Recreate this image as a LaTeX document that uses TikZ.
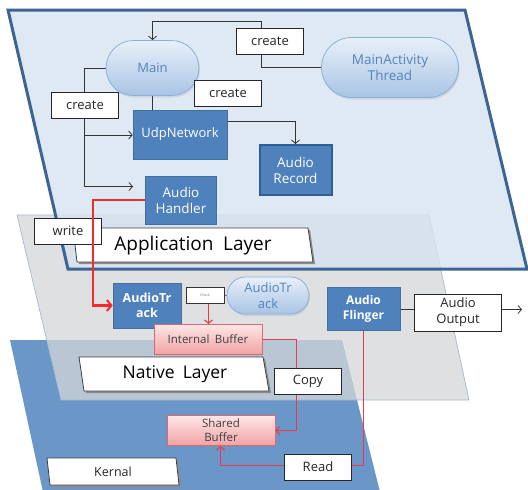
\documentclass[tikz,border=0pt]{standalone}
\usepackage{fontspec}
\setmainfont{Open Sans}
\usetikzlibrary{arrows.meta,shapes.misc,shadows}
\pgfdeclarelayer{bg}
\pgfdeclarelayer{lines}
\pgfsetlayers{bg,lines,main}
\definecolor{appfill}{HTML}{D7E3F1}
\definecolor{appborder}{HTML}{3D6594}
\definecolor{natfill}{HTML}{D4D6D8}
\definecolor{natborder}{HTML}{A5B8CC}
\definecolor{kerfill}{HTML}{6A97C8}
\definecolor{boxblue}{HTML}{4F81BD}
\definecolor{boxedge}{HTML}{41709F}
\definecolor{recedge}{HTML}{2F5E93}
\definecolor{pilltop}{HTML}{E8F0F9}
\definecolor{pillbot}{HTML}{A8C4E5}
\definecolor{pilledge}{HTML}{8CAFD8}
\definecolor{pilltext}{HTML}{5583B8}
\definecolor{pinktop}{HTML}{FDE6E6}
\definecolor{pinkbot}{HTML}{F2A2A5}
\definecolor{pinkedge}{HTML}{DB6A70}
\definecolor{redthick}{HTML}{F42B2B}
\definecolor{redthin}{HTML}{EE3A46}
\definecolor{linegray}{HTML}{333333}
\begin{document}
\begin{tikzpicture}[x=1pt,y=-1pt,
  every node/.style={font=\fontsize{13}{16}\selectfont, align=center, inner sep=0pt},
  pill/.style={rounded rectangle, draw=pilledge, line width=0.8pt, top color=pilltop, bottom color=pillbot, text=pilltext,
    drop shadow={opacity=0.18, shadow xshift=1pt, shadow yshift=-2pt}},
  dbox/.style={rectangle, draw=boxedge, line width=0.6pt, fill=boxblue, text=white},
  lbl/.style={rectangle, draw=black!85, line width=0.8pt, fill=white, text=black!85, minimum width=67pt, minimum height=26pt},
  pinkbox/.style={rectangle, draw=pinkedge, line width=0.8pt, top color=pinktop, bottom color=pinkbot, text=black!75,
    font=\fontsize{11.5}{14}\selectfont, drop shadow={opacity=0.15, shadow xshift=1pt, shadow yshift=-1.5pt}},
  layerlbl/.style={fill=white, draw=black!75, line width=0.8pt},
  lblshadow/.style={fill=black!45},
  conn/.style={draw=linegray, line width=0.8pt, -{Straight Barb[length=3.5pt,width=8pt]}},
  rconn/.style={draw=redthin, line width=1.2pt, -{Straight Barb[length=3.5pt,width=8pt,line width=1.1pt]}},
  rthick/.style={draw=redthick, line width=2.2pt, -{Straight Barb[length=4.5pt,width=11pt,line width=2pt]}}
]
\useasboundingbox (0,0) rectangle (528,490);

% ---------- layers ----------
\begin{pgfonlayer}{bg}
  \fill[kerfill] (10,340) -- (342,340) -- (380,492) -- (43,492) -- cycle;
  \filldraw[fill=natfill, fill opacity=0.75, draw=natborder, line width=0.7pt]
    (17,215) -- (429,215) -- (469,400) -- (61,400) -- cycle;
  \filldraw[fill=appfill, fill opacity=0.8, draw=appborder, line width=3pt, line join=miter]
    (8,10) -- (465,10) -- (527,269) -- (68,269) -- cycle;
  % layer labels
  \fill[lblshadow] (75,230) -- (310,230) -- (315,264) -- (79,264) -- cycle;
  \filldraw[layerlbl] (73,228) -- (308,228) -- (313,262) -- (77,262) -- cycle;
  \fill[lblshadow] (81,359) -- (265,359) -- (271,393) -- (86,393) -- cycle;
  \filldraw[layerlbl] (79,357) -- (263,357) -- (269,391) -- (84,391) -- cycle;
  \fill[lblshadow] (49,460) -- (178,460) -- (181,487) -- (52,487) -- cycle;
  \filldraw[layerlbl] (47,458) -- (176,458) -- (179,485) -- (50,485) -- cycle;
\end{pgfonlayer}

\node[font=\fontsize{19}{22}\selectfont] (applbl) at (193,246) {Application\hspace{0.25em} Layer};
\node[font=\fontsize{17.5}{20}\selectfont] (natlbl) at (175,374) {Native\hspace{0.2em} Layer};
\node[font=\fontsize{12.5}{15}\selectfont, text=black!85] (kerlbl) at (113,472) {Kernal};

% ---------- application layer nodes ----------
\node[pill, minimum width=93pt, minimum height=55pt] (main) at (152.5,68) {Main};
\node[pill, minimum width=137pt, minimum height=60pt, font=\fontsize{13.5}{16}\selectfont] (mat) at (390,67.5) {MainActivity\\Thread};
\node[lbl] (cr1) at (270,41) {create};
\node[lbl] (cr2) at (85,105) {create};
\node[lbl] (cr3) at (228,93) {create};
\node[dbox, minimum width=94pt, minimum height=49pt] (udp) at (180,134.5) {UdpNetwork};
\node[dbox, draw=recedge, line width=2pt, minimum width=72pt, minimum height=50pt, font=\fontsize{13.5}{16}\selectfont] (rec) at (295.5,170) {Audio\\Record};
\node[dbox, minimum width=71pt, minimum height=48pt, font=\fontsize{13.5}{16}\selectfont] (hdl) at (181,200) {Audio\\Handler};
\node[lbl] (wr) at (68,231) {write};

% ---------- native layer nodes ----------
\node[dbox, minimum width=68pt, minimum height=45pt, font=\bfseries\fontsize{12.5}{15.5}\selectfont] (atrack) at (147,305.5) {AudioTr\\ack};
\node[draw=black!80, line width=0.8pt, fill=white, minimum width=38pt, minimum height=16pt,
      font=\fontsize{3.5}{4}\selectfont, text=black!55] (chk) at (205,295) {Check};
\node[pill, minimum width=82pt, minimum height=37pt] (apill) at (268,295.5) {AudioTr\\ack};
\node[pinkbox, minimum width=108pt, minimum height=30pt] (ibuf) at (208,339.5) {Internal\hspace{0.2em} Buffer};
\node[dbox, minimum width=73pt, minimum height=43pt, font=\bfseries\fontsize{12}{15}\selectfont] (flg) at (363.5,308.5) {Audio\\Flinger};
\node[lbl, minimum width=87pt, minimum height=37pt] (aout) at (458,312.5) {Audio\\Output};
\node[lbl] (copy) at (308,381) {Copy};

% ---------- kernel nodes ----------
\node[pinkbox, minimum width=108pt, minimum height=30pt] (sbuf) at (221,430.5) {Shared\\Buffer};
\node[lbl] (read) at (318,467) {Read};

% ---------- connectors ----------
\coordinate (c1) at (261.5,21.5);
\coordinate (j1) at (84.5,186.5);
\coordinate (j2) at (84.5,135);
\coordinate (hEnd) at (133,186.5);
\coordinate (j3) at (295.5,121.5);
\coordinate (oEnd) at (522,309.5);
\coordinate (r2) at (296.5,430.5);
\coordinate (r3) at (220.5,465.5);
\coordinate (r1) at (93,200);

\begin{pgfonlayer}{lines}
  \draw[conn] (mat.west) -| (c1) -| (main.north);
  \draw[conn] (main.west) -| (j1) -- (hEnd);
  \draw[conn] (j2) -- (udp.west |- j2);
  \draw[conn] (main.south) |- (j3) -- (rec.north);
  \draw[draw=redthin, line width=1.2pt] (apill.west) -- (chk.east |- apill.west);
  \draw[rconn] (chk.south -| 208.5,0) -- (ibuf.north -| 208.5,0);
  \draw[rconn] (ibuf.east) -| (r2) -- (sbuf.east);
  \draw[rconn] (flg.south) |- (r3) -- (sbuf.south -| r3);
  \draw[draw=black!80, line width=0.8pt] (flg.east |- oEnd) -- (aout.west |- oEnd);
  \draw[conn, draw=black!80] (aout.east |- oEnd) -- (oEnd);
\end{pgfonlayer}

\draw[rthick] (hdl.west) -- (r1) |- (atrack.west);
\end{tikzpicture}
\end{document}
